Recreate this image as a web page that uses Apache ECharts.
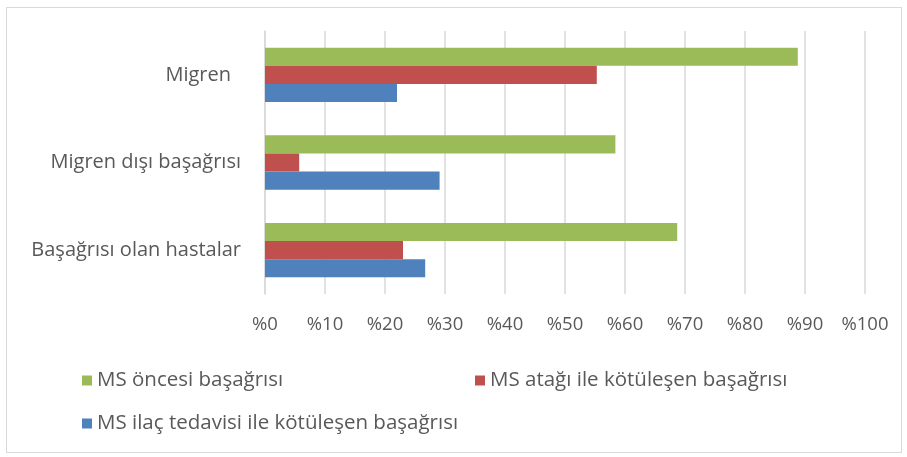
<!DOCTYPE html>
<html>
<head>
<meta charset="utf-8">
<script src="https://cdn.jsdelivr.net/npm/echarts@6/dist/echarts.min.js"></script>
<style>
  html, body { margin: 0; padding: 0; background: #fff; }
  #frame { position: absolute; left: 6px; top: 7px; width: 896px; height: 446px; border: 1px solid #d9d9d9; box-sizing: border-box; }
  #chart { position: absolute; left: 0; top: 0; width: 907px; height: 457px; }
</style>
</head>
<body>
<div id="frame"></div>
<div id="chart"></div>
<script>
// categories, top to bottom
const categories = ["Migren", "Migren dışı başağrısı", "Başağrısı olan hastalar"];
const seriesNames = [
  "MS öncesi başağrısı",
  "MS atağı ile kötüleşen başağrısı",
  "MS ilaç tedavisi ile kötüleşen başağrısı",
];
const colors = ["#9bbb59", "#c0504d", "#4f81bd"];
// percent values, same order as categories
const oncesi = [88.8, 58.4, 68.7];
const atak = [55.3, 5.7, 23.0];
const ilac = [22.0, 29.1, 26.7];
const xTicks = [0, 10, 20, 30, 40, 50, 60, 70, 80, 90, 100];

const font = "'Open Sans', sans-serif";
const textColor = "#595959";
const chart = echarts.init(document.getElementById("chart"), null, { renderer: "canvas" });

const legendAt = (name, left, top) => ({
  data: [name],
  left,
  top,
  icon: "rect",
  itemWidth: 10,
  itemHeight: 10,
  selectedMode: false,
  textStyle: { color: textColor, fontSize: 20.5, fontFamily: font },
});

chart.setOption({
  animation: false,
  color: colors,
  grid: { left: 265, right: 42, top: 31, bottom: 163 },
  legend: [
    legendAt(seriesNames[0], 77, 365),
    legendAt(seriesNames[1], 470, 365),
    legendAt(seriesNames[2], 77, 408),
  ],
  xAxis: {
    type: "value",
    min: xTicks[0],
    max: xTicks[xTicks.length - 1],
    interval: 10,
    axisLine: { show: false },
    axisTick: { show: false },
    axisLabel: {
      color: textColor,
      fontSize: 18.5,
      fontFamily: font,
      margin: 21,
      formatter: (v) => "%" + v,
    },
    splitLine: { lineStyle: { color: "#d9d9d9", width: 1.5 } },
  },
  yAxis: {
    type: "category",
    data: categories,
    inverse: true,
    axisLine: { lineStyle: { color: "#d9d9d9", width: 1.5 } },
    axisTick: { show: false },
    axisLabel: {
      color: textColor,
      fontSize: 20,
      fontFamily: font,
      margin: 24,
      // the first label sits a little left of the others in the source
      formatter: (v, i) => (i === 0 ? "{pad|" + v + "}" : v),
      rich: { pad: { color: textColor, fontSize: 20, fontFamily: font, padding: [0, 10, 0, 0] } },
    },
  },
  series: [oncesi, atak, ilac].map((d, i) => ({
    name: seriesNames[i],
    type: "bar",
    data: d,
    barGap: "0%",
    barCategoryGap: "38%",
  })),
});
</script>
</body>
</html>
